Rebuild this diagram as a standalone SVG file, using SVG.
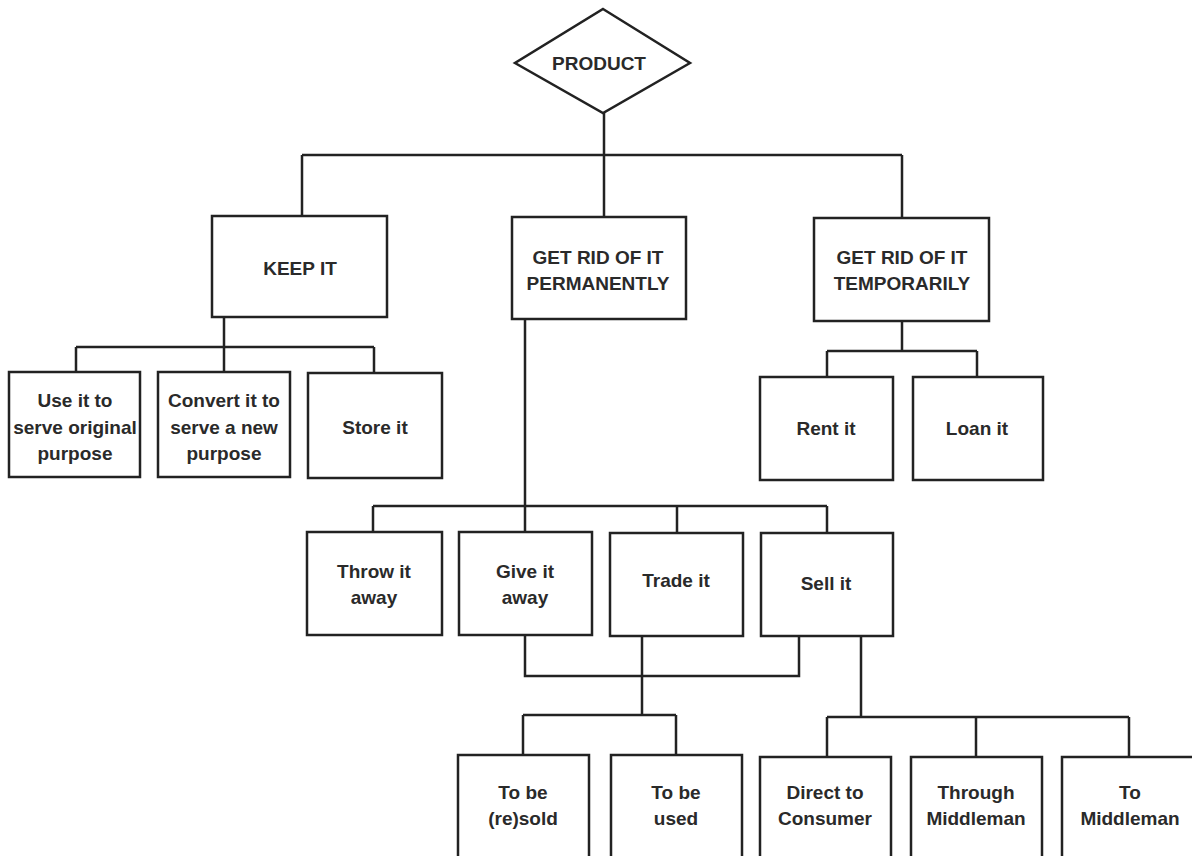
<svg xmlns="http://www.w3.org/2000/svg" width="1192" height="856" viewBox="0 0 1192 856">
<style>
.b{fill:#fff;stroke:#222;stroke-width:2.5}
.c{fill:none;stroke:#222;stroke-width:2.5}
text{font-family:"Liberation Sans",Arial,sans-serif;font-size:19px;font-weight:bold;fill:#2a2a2a;text-anchor:middle}
</style>
<rect width="1192" height="856" fill="#fff"/>
<g id="connectors" class="c">
<path d="M604,113 V155 M302,155 H902 M302,155 V216 M604,155 V217 M902,155 V218"/>
<path d="M224,317 V347 M76,347 H374 M76,347 V372 M224,347 V372 M374,347 V373"/>
<path d="M902,321 V351 M827,351 H977 M827,351 V377 M977,351 V377"/>
<path d="M525,319 V532 M373,506 H827 M373,506 V532 M677,506 V533 M827,506 V533"/>
<path d="M525,635 V676 H799 V636"/>
<path d="M642,636 V715 M523,715 H676 M523,715 V755 M676,715 V755"/>
<path d="M861,636 V717 M827,717 H1129 M827,717 V757 M976,717 V757 M1129,717 V757"/>
</g>
<g id="product"><polygon class="b" points="603,9 690,63 603,113 515,63"/><text x="599" y="70">PRODUCT</text></g>
<g id="keep"><rect class="b" x="212" y="216" width="175" height="101"/><text x="300" y="275">KEEP IT</text></g>
<g id="perm"><rect class="b" x="512" y="217" width="174" height="102"/><text x="598" y="264">GET RID OF IT</text><text x="598" y="290">PERMANENTLY</text></g>
<g id="temp"><rect class="b" x="814" y="218" width="175" height="103"/><text x="902" y="264">GET RID OF IT</text><text x="902" y="290">TEMPORARILY</text></g>
<g id="use"><rect class="b" x="9" y="372" width="131" height="105"/><text x="75" y="407">Use it to</text><text x="75" y="434">serve original</text><text x="75" y="460">purpose</text></g>
<g id="convert"><rect class="b" x="158" y="372" width="132" height="105"/><text x="224" y="407">Convert it to</text><text x="224" y="434">serve a new</text><text x="224" y="460">purpose</text></g>
<g id="store"><rect class="b" x="308" y="373" width="134" height="105"/><text x="375" y="434">Store it</text></g>
<g id="rent"><rect class="b" x="760" y="377" width="133" height="103"/><text x="826" y="435">Rent it</text></g>
<g id="loan"><rect class="b" x="913" y="377" width="130" height="103"/><text x="977" y="435">Loan it</text></g>
<g id="throw"><rect class="b" x="307" y="532" width="135" height="103"/><text x="374" y="578">Throw it</text><text x="374" y="604">away</text></g>
<g id="give"><rect class="b" x="459" y="532" width="133" height="103"/><text x="525" y="578">Give it</text><text x="525" y="604">away</text></g>
<g id="trade"><rect class="b" x="610" y="533" width="133" height="103"/><text x="676" y="587">Trade it</text></g>
<g id="sell"><rect class="b" x="761" y="533" width="132" height="103"/><text x="826" y="590">Sell it</text></g>
<g id="resold"><rect class="b" x="458" y="755" width="131" height="115"/><text x="523" y="799">To be</text><text x="523" y="825">(re)sold</text></g>
<g id="used"><rect class="b" x="611" y="755" width="131" height="115"/><text x="676" y="799">To be</text><text x="676" y="825">used</text></g>
<g id="direct"><rect class="b" x="760" y="757" width="131" height="113"/><text x="825" y="799">Direct to</text><text x="825" y="825">Consumer</text></g>
<g id="through"><rect class="b" x="911" y="757" width="131" height="113"/><text x="976" y="799">Through</text><text x="976" y="825">Middleman</text></g>
<g id="tomiddle"><rect class="b" x="1062" y="757" width="140" height="113"/><text x="1130" y="799">To</text><text x="1130" y="825">Middleman</text></g>
</svg>
